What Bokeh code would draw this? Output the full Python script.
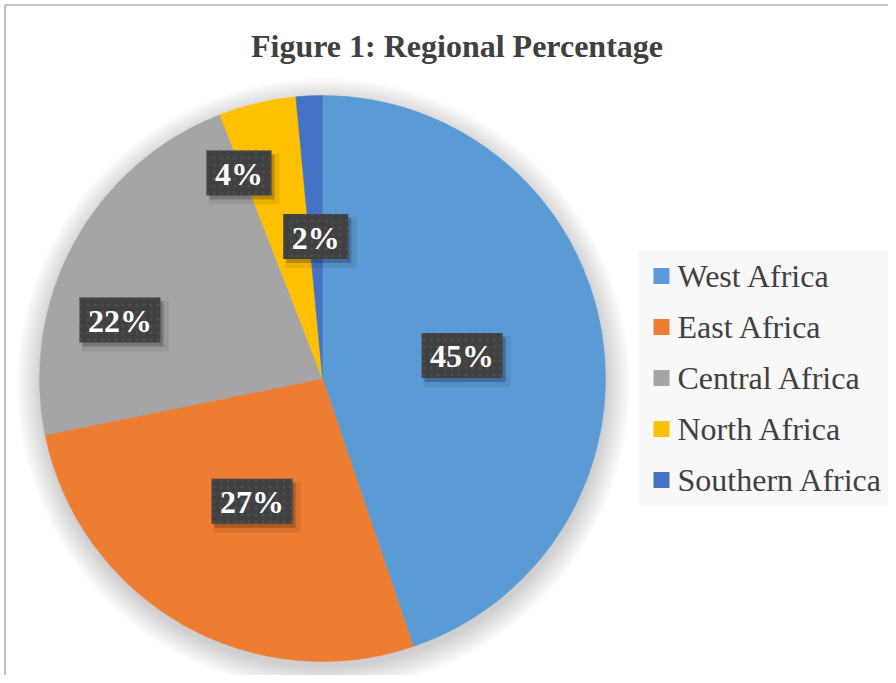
import numpy as np
from bokeh.plotting import figure
from bokeh.models import Range1d, ColumnDataSource
from bokeh.core.properties import value
from bokeh.embed import file_html
from bokeh.resources import INLINE

# ---------------- data ----------------
title_text = "Figure 1: Regional Percentage"
regions = ["West Africa", "East Africa", "Central Africa", "North Africa", "Southern Africa"]
shares = [44.8, 27.0, 22.3, 4.4, 1.5]
colors = ["#5B9BD5", "#ED7D31", "#A5A5A5", "#FFC000", "#4472C4"]

# ---------------- layout / style ----------------
label_radius_frac = [0.5, 0.5, 0.745, 0.784, 0.502]
label_angle_nudge = [0.0, 0.0, -12.5, -8.8, 0.0]   # degrees

W, H = 888, 675
cx, cy, R = 322, 297, 283
TEXT = "#404040"
SERIF = value("Liberation Serif")

p = figure(width=W, height=H, x_range=Range1d(0, W), y_range=Range1d(0, H),
           output_backend="svg", toolbar_location=None, min_border=0)
p.axis.visible = False
p.grid.visible = False
p.outline_line_color = None
p.background_fill_color = "white"
p.border_fill_color = "white"

# chart frame (left and top edges visible in reference)
p.line(x=[4.5, 4.5], y=[0, 670.5], line_color="#C4C4C4", line_width=2)
p.line(x=[4.5, W], y=[670.5, 670.5], line_color="#C4C4C4", line_width=2)

# soft shadow behind the pie
for k in range(16):
    p.circle(x=[cx + 1], y=[cy - 6], radius=R + 1.6 * k,
             fill_color="black", fill_alpha=0.011, line_color=None)

# pie
frac = np.array(shares, dtype=float) / float(np.sum(shares))
cum = np.cumsum(frac)
prev = np.concatenate([[0.0], cum[:-1]])
start = np.pi / 2 - 2 * np.pi * prev
end = np.pi / 2 - 2 * np.pi * cum
src = ColumnDataSource(dict(start=start, end=end, color=colors, region=regions))
p.wedge(x=cx, y=cy, radius=R, start_angle="start", end_angle="end",
        direction="clock", fill_color="color", line_color="color",
        line_width=0.5, source=src)

# data labels
labels = [f"{round(s):.0f}%" for s in shares]
theta = 2 * np.pi * (prev + frac / 2) + np.radians(label_angle_nudge)
rr = np.array(label_radius_frac) * R
lx = cx + rr * np.sin(theta)
ly = cy + rr * np.cos(theta)
bw = [49 + 16 * (len(t) - 1) for t in labels]
bh = 45

p.rect(x=lx + 5, y=ly - 6, width=[w + 6 for w in bw], height=bh + 6,
       fill_color="black", fill_alpha=0.08, line_color=None)
p.rect(x=lx + 3, y=ly - 4, width=bw, height=bh,
       fill_color="black", fill_alpha=0.22, line_color=None)
p.rect(x=lx, y=ly, width=bw, height=bh, fill_color="#404040", line_color=None,
       hatch_pattern="dot", hatch_color="#4C4C4C", hatch_scale=7, hatch_weight=1)
p.text(x=lx, y=ly - 1, text=labels, text_font=SERIF, text_font_style="bold",
       text_font_size="32px", text_color="white", text_align="center",
       text_baseline="alphabetic")

# title
p.text(x=[456.5], y=[629.5], text=[title_text], text_font=SERIF,
       text_font_style="bold", text_font_size="32px", text_color=TEXT,
       text_align="center", text_baseline="alphabetic")

# legend (drawn manually)
p.quad(left=[638], right=[W], top=[425], bottom=[170],
       fill_color="#F8F8F8", line_color=None)
n = len(regions)
ly_leg = [399.5 - 51 * i for i in range(n)]
p.rect(x=[661] * n, y=ly_leg, width=16, height=16, fill_color=colors, line_color=None)
p.text(x=[677] * n, y=[y - 0.2 for y in ly_leg], text=regions, text_font=SERIF,
       text_font_size="32px", text_color=TEXT, text_align="left",
       text_baseline="alphabetic")

open("out.html", "w").write(file_html(p, INLINE))
